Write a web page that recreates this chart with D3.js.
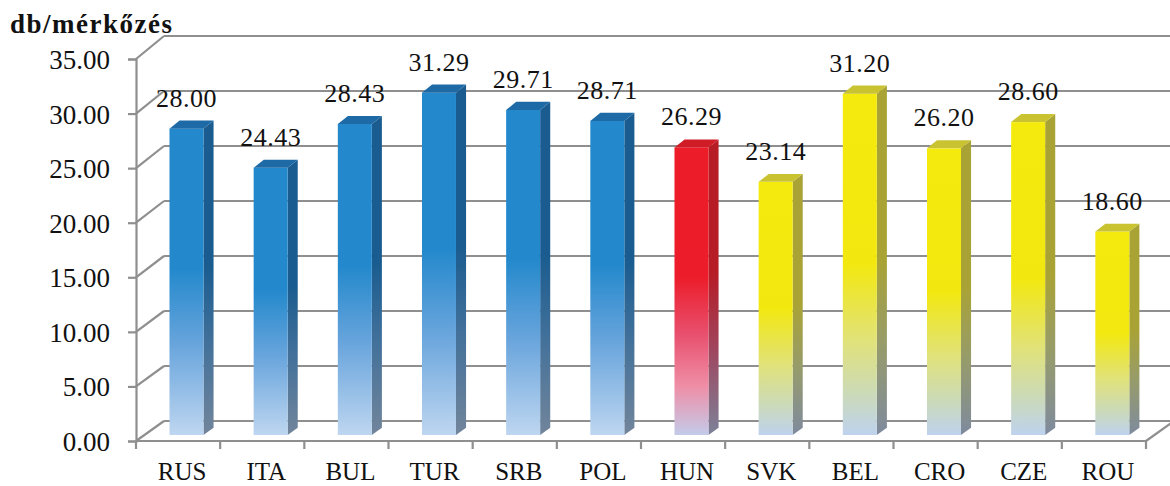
<!DOCTYPE html>
<html>
<head>
<meta charset="utf-8">
<script src="https://cdn.jsdelivr.net/npm/d3@7"></script>
<style>
  html, body { margin: 0; padding: 0; background: #fff; }
  svg { display: block; }
  text { font-family: "Liberation Serif", "DejaVu Serif", serif; fill: #111; }
</style>
</head>
<body>
<svg id="chart" width="1170" height="486"></svg>
<script>
// Goals per match by team
const categories = ['RUS', 'ITA', 'BUL', 'TUR', 'SRB', 'POL', 'HUN', 'SVK', 'BEL', 'CRO', 'CZE', 'ROU'];
const values = [28.00, 24.43, 28.43, 31.29, 29.71, 28.71, 26.29, 23.14, 31.20, 26.20, 28.60, 18.60];
const groups = ['A', 'A', 'A', 'A', 'A', 'A', 'H', 'B', 'B', 'B', 'B', 'B'];
const yTicks = [0, 5, 10, 15, 20, 25, 30, 35];
const yTitle = 'db/mérkőzés';

// Face shading per group: front/side gradients and flat top colour
const palette = {
  A: {
    front: [[0, '#2489cc'], [0.46, '#2489cc'], [0.7, '#67a4dc'], [1, '#bed6f0']],
    side:  [[0, '#1a5c8f'], [0.46, '#1a5c8f'], [0.7, '#41709a'], [1, '#72859b']],
    top: '#1d6aa6'
  },
  H: {
    front: [[0, '#ec1c28'], [0.45, '#ec1c2a'], [0.65, '#e8506e'], [0.83, '#ef8ea6'], [1, '#c3cbea']],
    side:  [[0, '#b61c25'], [0.45, '#b61c25'], [0.7, '#a0445c'], [1, '#7c8299']],
    top: '#cf1c26'
  },
  B: {
    front: [[0, '#f4ea0c'], [0.5, '#f2e810'], [0.72, '#e1e278'], [0.88, '#cbdab8'], [1, '#bed2ee']],
    side:  [[0, '#a9a336'], [0.5, '#a9a336'], [0.75, '#969b6c'], [1, '#7e8a9e']],
    top: '#c9c332'
  }
};

const svg = d3.select('#chart');
const W = 1170, H = 486;

// Plot box: front plane of the 3D frame and the receding back wall
const x0 = 136, x1 = 1146;
const depthX = 28;
const yFront = d3.scaleLinear().domain([0, 35]).range([441, 59]);
const yBack = d3.scaleLinear().domain([0, 35]).range([421, 36]);
const x = d3.scaleBand().domain(categories).range([x0, x1]).padding(0);

// Project a value at a fractional depth t (0 = front plane, 1 = back wall)
const py = (v, t) => yFront(v) + t * (yBack(v) - yFront(v));
const px = t => t * depthX;

const tFront = 0.3, tBack = 0.66, halfW = 17;
const gridColor = '#8f8f8f';

const defs = svg.append('defs');
const clip = defs.append('clipPath').attr('id', 'plotClip');
clip.append('rect').attr('x', 0).attr('y', 0).attr('width', W).attr('height', H);

function addGradient(id, stops) {
  const g = defs.append('linearGradient').attr('id', id)
    .attr('x1', 0).attr('y1', 0).attr('x2', 0).attr('y2', 1);
  stops.forEach(([o, c]) => g.append('stop').attr('offset', o).attr('stop-color', c));
}
Object.entries(palette).forEach(([k, p]) => {
  addGradient('front-' + k, p.front);
  addGradient('side-' + k, p.side);
});

// Back wall gridlines and left wall diagonals
const frame = svg.append('g').attr('fill', 'none').attr('stroke', gridColor).attr('stroke-width', 2.2);
frame.selectAll('line.grid').data(yTicks).join('line')
  .attr('class', 'grid')
  .attr('x1', x0 + depthX).attr('x2', x1 + depthX)
  .attr('y1', d => yBack(d)).attr('y2', d => yBack(d));
frame.selectAll('line.wall').data(yTicks).join('line')
  .attr('class', 'wall')
  .attr('x1', x0).attr('y1', d => yFront(d))
  .attr('x2', x0 + depthX).attr('y2', d => yBack(d));
// Floor front edge and right edge
frame.append('line').attr('x1', x0).attr('x2', x1).attr('y1', yFront(0)).attr('y2', yFront(0));
frame.append('line').attr('x1', x1).attr('y1', yFront(0)).attr('x2', x1 + depthX).attr('y2', yBack(0));

// Value axis on the front plane
const yAxis = d3.axisLeft(yFront).tickValues(yTicks).tickSize(8).tickFormat(d3.format('.2f'));
const ya = svg.append('g').attr('transform', `translate(${x0},0)`).call(yAxis);
ya.select('.domain').attr('stroke', gridColor).attr('stroke-width', 2.2);
ya.selectAll('.tick line').attr('stroke', gridColor).attr('stroke-width', 2.2);
ya.selectAll('.tick text')
  .attr('x', -26).attr('dy', '0.35em')
  .style('font-family', '"Liberation Serif", serif').style('font-size', '27px').attr('fill', '#111');

// Category axis on the front floor edge
const xAxis = d3.axisBottom(x).tickSize(8).tickSizeOuter(0);
const xa = svg.append('g').attr('transform', `translate(0,${yFront(0)})`).call(xAxis);
xa.select('.domain').remove();
xa.selectAll('.tick line').remove();
xa.selectAll('.tick text')
  .attr('y', 0).attr('dy', 0).attr('transform', 'translate(4,39)')
  .style('font-family', '"Liberation Serif", serif').style('font-size', '25px').attr('fill', '#111');
// Category boundary tick marks
const bounds = categories.map(c => x(c)).concat([x1]);
svg.append('g').selectAll('line').data(bounds).join('line')
  .attr('x1', d => d).attr('x2', d => d)
  .attr('y1', yFront(0)).attr('y2', yFront(0) + 8)
  .attr('stroke', gridColor).attr('stroke-width', 2.2);

// 3D columns
const data = categories.map((c, i) => ({ c, v: values[i], g: groups[i] }));
const bars = svg.append('g').attr('clip-path', 'url(#plotClip)');
data.forEach(d => {
  const cx = x(d.c) + x.bandwidth() / 2;
  const fl = cx - halfW + px(tFront), fr = cx + halfW + px(tFront);
  const bl = cx - halfW + px(tBack), br = cx + halfW + px(tBack);
  const fTop = py(d.v, tFront), fBot = py(0, tFront);
  const bTop = py(d.v, tBack), bBot = py(0, tBack);
  const g = bars.append('g');
  // right side face
  g.append('path')
    .attr('d', `M${fr},${fTop}L${br},${bTop}L${br},${bBot}L${fr},${fBot}Z`)
    .attr('fill', `url(#side-${d.g})`);
  // front face
  g.append('rect')
    .attr('x', fl).attr('y', fTop).attr('width', fr - fl).attr('height', fBot - fTop)
    .attr('fill', `url(#front-${d.g})`);
  // top face
  g.append('path')
    .attr('d', `M${fl},${fTop}L${fr},${fTop}L${br},${bTop}L${bl},${bTop}Z`)
    .attr('fill', palette[d.g].top);
  d.labelX = (fl + fr) / 2;
  d.labelY = fTop - 22;
});

// Value labels
svg.append('g').selectAll('text').data(data).join('text')
  .attr('x', d => d.labelX).attr('y', d => d.labelY)
  .attr('text-anchor', 'middle')
  .style('font-size', '26px').style('letter-spacing', '0.5px')
  .text(d => d3.format('.2f')(d.v));

// Axis title
svg.append('text')
  .attr('x', 10).attr('y', 33)
  .style('font-size', '27px').style('font-weight', 'bold').style('letter-spacing', '1.5px')
  .text(yTitle);
</script>
</body>
</html>
